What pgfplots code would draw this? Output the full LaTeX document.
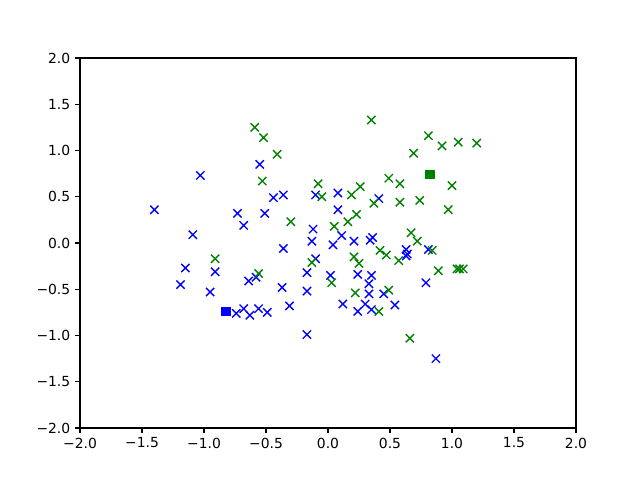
\documentclass[border=0pt]{standalone}
\usepackage{fontspec}
\setmainfont{DejaVu Sans}
\usepackage{pgfplots}
\pgfplotsset{compat=1.18}
\definecolor{mplgreen}{rgb}{0,0.5,0}
\definecolor{mplblue}{rgb}{0,0,1}

\begin{document}
\begin{tikzpicture}
% figure bounding box (6.4in x 4.8in)
\path[use as bounding box] (-57.6pt,-37.44pt) rectangle (403.2pt,308.16pt);
\begin{axis}[
    at={(0,0)}, anchor=south west,
    scale only axis,
    width=357.12pt,
    height=266.4pt,
    xmin=-2, xmax=2,
    ymin=-2, ymax=2,
    axis line style={line width=0.8pt},
    tick align=outside,
    tick pos=left,
    major tick length=3.5pt,
    tick style={line width=0.8pt, black},
    xtick={-2,-1.5,-1,-0.5,0,0.5,1,1.5,2},
    ytick={-2,-1.5,-1,-0.5,0,0.5,1,1.5,2},
    xticklabels={−2.0,−1.5,−1.0,−0.5,0.0,0.5,1.0,1.5,2.0},
    yticklabels={−2.0,−1.5,−1.0,−0.5,0.0,0.5,1.0,1.5,2.0},
    tick label style={font=\fontsize{10}{12}\selectfont},
    clip=false
]

% --- class 0 (blue) ---
\addplot[only marks, mark=x, mark size=4.2pt, mplblue, line width=1pt] coordinates {
    (-1.40,0.36) (-1.03,0.73) (-1.09,0.09) (-1.15,-0.27) (-1.19,-0.45)
    (-0.95,-0.53) (-0.91,-0.31) (-0.73,0.32) (-0.68,0.19) (-0.55,0.85)
    (-0.51,0.32) (-0.44,0.49) (-0.36,0.52) (-0.36,-0.06) (-0.37,-0.48)
    (-0.31,-0.68) (-0.17,-0.99) (-0.17,-0.52) (-0.17,-0.32) (-0.10,-0.17)
    (-0.10,0.52) (-0.12,0.15) (-0.13,0.02) (-0.64,-0.41) (-0.58,-0.37)
    (-0.74,-0.76) (-0.68,-0.71) (-0.63,-0.78) (-0.56,-0.71) (-0.49,-0.75)
    (0.08,0.54) (0.08,0.36) (0.41,0.48) (0.11,0.08) (0.04,-0.02)
    (0.21,0.02) (0.36,0.06) (0.34,0.03) (0.63,-0.07) (0.64,-0.12)
    (0.63,-0.14) (0.81,-0.07) (0.02,-0.35) (0.24,-0.34) (0.35,-0.35)
    (0.33,-0.44) (0.33,-0.55) (0.45,-0.55) (0.79,-0.43) (0.12,-0.66)
    (0.30,-0.66) (0.24,-0.74) (0.35,-0.72) (0.54,-0.67) (0.87,-1.25)
};

% --- class 1 (green) ---
\addplot[only marks, mark=x, mark size=4.2pt, mplgreen, line width=1pt] coordinates {
    (-0.59,1.25) (-0.52,1.14) (-0.41,0.96) (-0.53,0.67) (-0.08,0.64)
    (-0.05,0.50) (-0.30,0.23) (-0.91,-0.17) (-0.56,-0.33) (-0.13,-0.21)
    (0.26,0.61) (0.19,0.52) (0.49,0.70) (0.58,0.64) (0.37,0.43)
    (0.58,0.44) (0.74,0.46) (0.97,0.36) (0.23,0.31) (0.16,0.23)
    (0.05,0.18) (0.67,0.11) (0.72,0.02) (0.42,-0.08) (0.47,-0.13)
    (0.57,-0.19) (0.84,-0.08) (0.21,-0.15) (0.25,-0.22) (0.89,-0.30)
    (0.03,-0.43) (0.22,-0.54) (0.49,-0.51) (0.41,-0.74) (0.66,-1.03)
    (0.81,1.16) (0.92,1.05) (1.05,1.09) (1.20,1.08) (0.69,0.97)
    (1.00,0.62) (1.04,-0.28) (1.06,-0.28) (1.09,-0.28) (0.35,1.33)
};

% --- class means ---
\addplot[only marks, mark=square*, mark size=3pt, mplblue, line width=1pt] coordinates {(-0.82,-0.74)};
\addplot[only marks, mark=square*, mark size=3pt, mplgreen, line width=1pt] coordinates {(0.82,0.74)};

\end{axis}
\end{tikzpicture}
\end{document}
